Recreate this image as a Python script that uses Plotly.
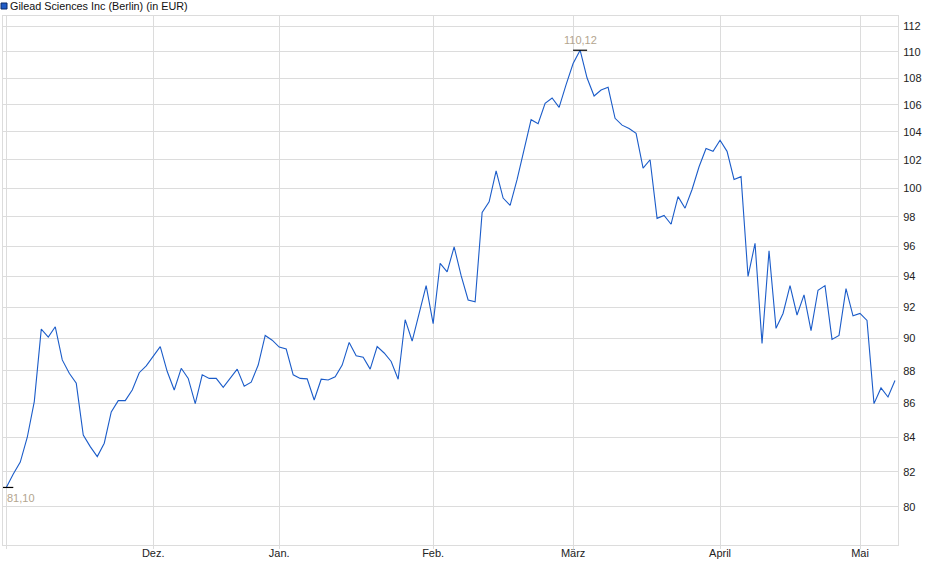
import math
import plotly.graph_objects as go

# ---- data ----
series_name = "Gilead Sciences Inc (Berlin) (in EUR)"
prices = [
    81.10, 81.87, 82.55, 84.00, 86.12, 90.60, 90.10, 90.75, 88.67, 87.85,
    87.23, 84.13, 83.45, 82.87, 83.65, 85.50, 86.18, 86.18, 86.82, 87.88,
    88.30, 88.90, 89.50, 87.95, 86.82, 88.15, 87.53, 86.00, 87.75, 87.53,
    87.53, 86.98, 87.53, 88.10, 87.05, 87.30, 88.35, 90.20, 89.90, 89.47,
    89.35, 87.75, 87.53, 87.50, 86.22, 87.48, 87.43, 87.63, 88.35, 89.76,
    88.93, 88.83, 88.10, 89.50, 89.10, 88.57, 87.48, 91.20, 89.85, 91.70,
    93.40, 90.95, 94.87, 94.30, 95.97, 94.05, 92.47, 92.35, 98.30, 99.04,
    101.20, 99.30, 98.80, 100.60, 102.70, 104.90, 104.60, 106.10, 106.50, 105.80,
    107.50, 109.10, 110.12, 108.00, 106.65, 107.10, 107.30, 105.00, 104.50, 104.25,
    103.90, 101.40, 102.00, 97.90, 98.10, 97.50, 99.40, 98.60, 99.90, 101.50,
    102.80, 102.60, 103.40, 102.60, 100.60, 100.80, 94.00, 96.20, 89.70, 95.70,
    90.65, 91.60, 93.40, 91.50, 92.80, 90.50, 93.10, 93.40, 89.95, 90.20,
    93.20, 91.45, 91.60, 91.15, 86.00, 86.95, 86.40, 87.40,
]
day_index = list(range(len(prices)))
month_tick_index = [0, 21, 39, 61, 81, 102, 122]
month_tick_labels = ["", "Dez.", "Jan.", "Feb.", "März", "April", "Mai"]
y_tick_values = [80, 82, 84, 86, 88, 90, 92, 94, 96, 98, 100, 102, 104, 106, 108, 110, 112]

# ---- styling ----
FONT = "Liberation Sans, Arial, sans-serif"
LINE_COLOR = "#1b5cc9"
GRID = "#dcdcdc"
LABEL_COLOR = "#b3a58e"

i_min = min(day_index, key=lambda i: prices[i])
i_max = max(day_index, key=lambda i: prices[i])


def de(v):
    return f"{v:.2f}".replace(".", ",")


fig = go.Figure()
fig.add_trace(go.Scatter(
    x=day_index, y=prices, mode="lines",
    line=dict(color=LINE_COLOR, width=1.1),
    hoverinfo="skip", showlegend=False,
))
fig.add_trace(go.Scatter(
    x=[i_min, i_max], y=[prices[i_min], prices[i_max]], mode="markers",
    marker=dict(symbol="line-ew", size=10, line=dict(color="#000000", width=1.2)),
    hoverinfo="skip", showlegend=False,
))

fig.add_annotation(
    x=i_min, y=math.log10(prices[i_min]), text=de(prices[i_min]),
    showarrow=False, xanchor="left", yanchor="top", xshift=-1, yshift=-3,
    font=dict(family=FONT, size=11, color=LABEL_COLOR),
)
fig.add_annotation(
    x=i_max, y=math.log10(prices[i_max]), text=de(prices[i_max]),
    showarrow=False, xanchor="center", yanchor="bottom", yshift=2,
    font=dict(family=FONT, size=11, color=LABEL_COLOR),
)

# legend-like title
fig.add_shape(
    type="rect", xref="paper", yref="paper", xsizemode="pixel", ysizemode="pixel",
    xanchor=0, yanchor=1, x0=-2, x1=4, y0=7, y1=13,
    fillcolor="#1f5bc6", line=dict(color="#0d2a66", width=1),
)
fig.add_annotation(
    xref="paper", yref="paper", x=0, y=1, xanchor="left", yanchor="middle",
    xshift=5, yshift=10, text=series_name, showarrow=False,
    font=dict(family=FONT, size=10.8, color="#111111"),
)

fig.update_layout(
    width=940, height=579,
    margin=dict(l=3, r=42, t=16, b=34),
    paper_bgcolor="white", plot_bgcolor="white",
    font=dict(family=FONT, size=11, color="#222222"),
)
fig.update_xaxes(
    range=[-0.47, 127.43],
    tickmode="array", tickvals=month_tick_index, ticktext=month_tick_labels,
    showgrid=True, gridcolor=GRID, gridwidth=1,
    showline=True, linecolor=GRID, linewidth=1, mirror=True,
    ticks="outside", ticklen=3, tickcolor=GRID,
    ticklabelstandoff=-5,
    zeroline=False,
    tickfont=dict(family=FONT, size=11, color="#222222"),
)
fig.update_yaxes(
    type="log", side="right",
    range=[math.log10(77.90), math.log10(112.79)],
    tickmode="array", tickvals=y_tick_values, ticktext=[str(v) for v in y_tick_values],
    showgrid=True, gridcolor=GRID, gridwidth=1,
    showline=True, linecolor=GRID, linewidth=1, mirror=True,
    ticks="", ticklabelstandoff=2,
    zeroline=False,
    tickfont=dict(family=FONT, size=11, color="#222222"),
)

fig.write_html(
    "out.html",
    config={"displayModeBar": False},
    post_script="document.body.style.margin='0';",
)
